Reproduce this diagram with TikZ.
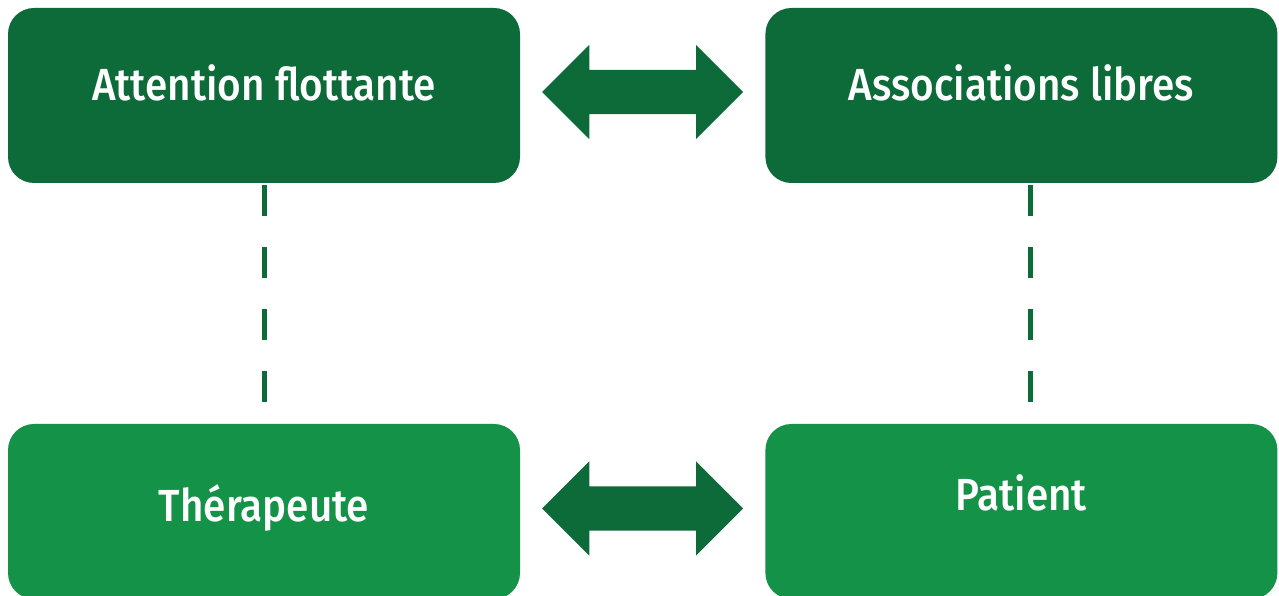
\documentclass[tikz,border=0pt]{standalone}
\usepackage{fontspec}
\setmainfont{Fira Sans}[BoldFont={Fira Sans Medium}, BoldFeatures={FakeStretch=0.9}]
\usetikzlibrary{positioning,calc,shapes.arrows}
\definecolor{darkgreen}{RGB}{13,107,58}
\definecolor{lightgreen}{RGB}{20,146,72}
\tikzset{
  box/.style={rounded corners=26pt, minimum width=512pt, minimum height=175pt, inner sep=0pt},
  upperbox/.style={box, fill=darkgreen},
  lowerbox/.style={box, fill=lightgreen},
  lbl/.style={text=white, font=\fontsize{45}{54}\selectfont\bfseries, anchor=base, inner sep=0pt},
  link/.style={draw=darkgreen, line width=5pt, dash pattern=on 31pt off 31pt},
  bigarrow/.style={double arrow, fill=darkgreen, minimum height=201pt, text height=22pt, text depth=22pt,
    double arrow head extend=25pt, inner sep=0pt}
}
\begin{document}
\begin{tikzpicture}[x=1pt,y=1pt]
\useasboundingbox (0,0) rectangle (1279,596);
% nodes
\node[upperbox] (attn) at (264,500.5) {};
\node[upperbox, right=245pt of attn] (assoc) {};
\node[lowerbox] (ther) at (264,84.5) {};
\node[lowerbox, right=245pt of ther] (pat) {};
% labels
\node[lbl] (attnlbl) at ([yshift=-5.5pt]attn.center) {Attention flottante};
\node[lbl] (assoclbl) at ([yshift=-5.5pt]assoc.center) {Associations libres};
\node[lbl] (therlbl) at ([yshift=-10.5pt]ther.center) {Thérapeute};
\node[lbl] (patlbl) at ([yshift=0.5pt]pat.center) {Patient};
% edges
\node[bigarrow, yshift=3.5pt] (toparrow) at ($(attn.east)!0.5!(assoc.west)$) {};
\node[bigarrow, yshift=3pt] (lowarrow) at ($(ther.east)!0.5!(pat.west)$) {};
\draw[link] ([yshift=-2pt]attn.south) -- ([yshift=22pt]ther.north);
\draw[link] ([xshift=9pt,yshift=-2pt]assoc.south) -- ([xshift=9pt,yshift=22pt]pat.north);
\end{tikzpicture}
\end{document}
